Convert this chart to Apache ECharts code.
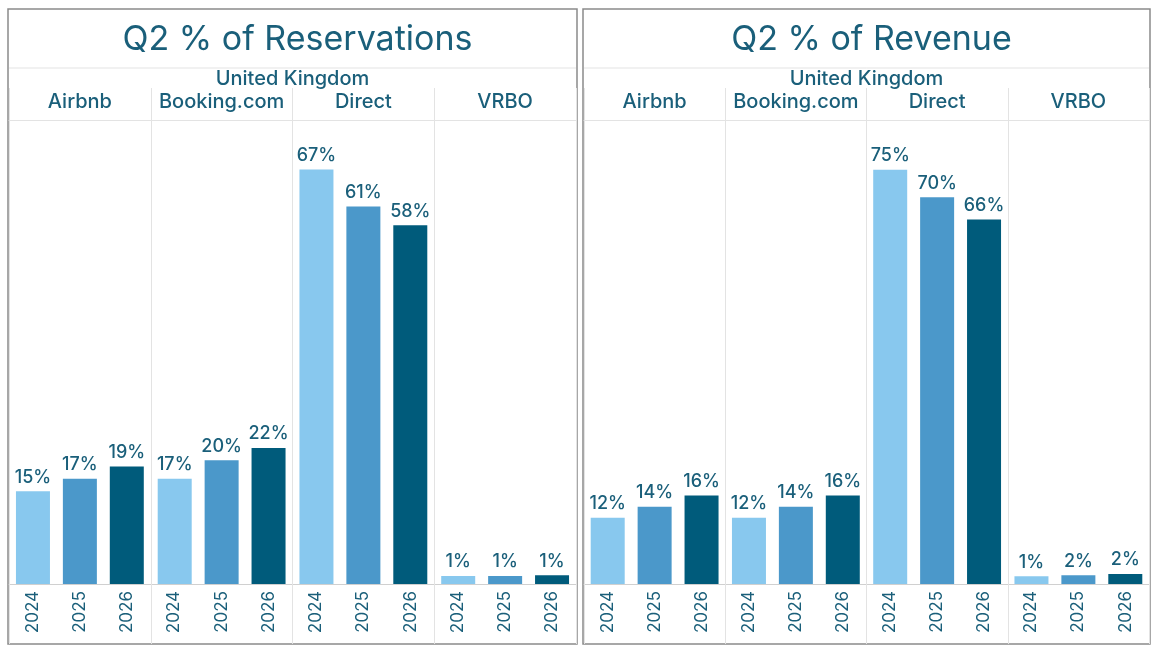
<!DOCTYPE html>
<html>
<head>
<meta charset="utf-8">
<script src="https://cdn.jsdelivr.net/npm/echarts@6/dist/echarts.min.js"></script>
<style>
  html, body { margin: 0; padding: 0; background: #fff; }
  #chart { width: 1160px; height: 653px; }
</style>
</head>
<body>
<div id="chart"></div>
<script>
// data
var channels = ['Airbnb', 'Booking.com', 'Direct', 'VRBO'];
var years = ['2024', '2025', '2026'];
var resv2024 = [15, 17, 67, 1.3];
var resv2025 = [17, 20, 61, 1.3];
var resv2026 = [19, 22, 58, 1.4];
var rev2024 = [12, 12, 75, 1.4];
var rev2025 = [14, 14, 70, 1.6];
var rev2026 = [16, 16, 66, 1.8];

var yearColors = ['#88c8ee', '#4b98ca', '#005b7b'];
var textColor = '#1a5f7a';
var lineColor = '#e3e3e3';
var font = 'Inter';

// year labels under every bar
var yearLabels = [];
channels.forEach(function () { years.forEach(function (y) { yearLabels.push(y); }); });

var panels = [
  { title: 'Q2 % of Reservations', left: 8, width: 569, max: 75, series: [resv2024, resv2025, resv2026] },
  { title: 'Q2 % of Revenue', left: 583, width: 567, max: 84, series: [rev2024, rev2025, rev2026] }
];

var myChart = echarts.init(document.getElementById('chart'));

var option = {
  backgroundColor: '#fff',
  textStyle: { fontFamily: font },
  title: [],
  grid: [],
  xAxis: [],
  yAxis: [],
  series: [],
  graphic: []
};

panels.forEach(function (p, i) {
  option.title.push({
    text: p.title,
    left: p.left + p.width / 2,
    top: 18,
    textAlign: 'center',
    textStyle: { color: textColor, fontSize: 34, fontWeight: 'normal', fontFamily: font }
  });
  option.grid.push({ left: p.left + 1, width: p.width - 2, top: 120, bottom: 69 });

  // years under the bars
  option.xAxis.push({
    type: 'category', gridIndex: i, position: 'bottom', data: yearLabels,
    axisLine: { lineStyle: { color: '#d0d0d0' } },
    axisTick: { show: false },
    axisLabel: { rotate: 90, interval: 0, color: textColor, fontSize: 17, margin: 7, fontFamily: font }
  });
  // channel headers on top with separators
  option.xAxis.push({
    type: 'category', gridIndex: i, position: 'top', data: channels,
    name: 'United Kingdom', nameLocation: 'middle', nameGap: 31, nameMoveOverlap: false,
    nameTextStyle: { color: textColor, fontSize: 20, fontWeight: 500, fontFamily: font },
    axisLine: { lineStyle: { color: lineColor } },
    axisTick: { show: true, interval: 0, length: 32, lineStyle: { color: lineColor } },
    splitLine: { show: true, interval: 0, lineStyle: { color: lineColor } },
    axisLabel: { interval: 0, color: textColor, fontSize: 20, fontWeight: 500, margin: 8, fontFamily: font }
  });
  // separators continued through the year labels
  option.xAxis.push({
    type: 'category', gridIndex: i, position: 'bottom', data: channels,
    axisLine: { show: false },
    axisTick: { show: true, interval: 0, length: 60, lineStyle: { color: lineColor } },
    axisLabel: { show: false }
  });
  option.yAxis.push({ type: 'value', gridIndex: i, min: 0, max: p.max, show: false });

  p.series.forEach(function (vals, k) {
    option.series.push({
      type: 'bar', name: years[k],
      xAxisIndex: i * 3 + 1, yAxisIndex: i,
      data: vals, barWidth: 34, barGap: '38%',
      itemStyle: { color: yearColors[k] },
      label: {
        show: true, position: 'top', distance: 5,
        color: textColor, fontSize: 18, fontWeight: 500, fontFamily: font,
        formatter: function (d) { return Math.round(d.value) + '%'; }
      }
    });
  });

  option.graphic.push({
    type: 'rect', shape: { x: p.left, y: 9, width: p.width, height: 635 },
    style: { fill: null, stroke: '#8a8a8a', lineWidth: 1.5 }, silent: true
  });
  option.graphic.push({
    type: 'line', shape: { x1: p.left + 1, y1: 68, x2: p.left + p.width - 1, y2: 68 },
    style: { stroke: lineColor, lineWidth: 1 }, silent: true
  });
});

myChart.setOption(option);
window.addEventListener('resize', function () {
  myChart.resize();
});
</script>
</body>
</html>
